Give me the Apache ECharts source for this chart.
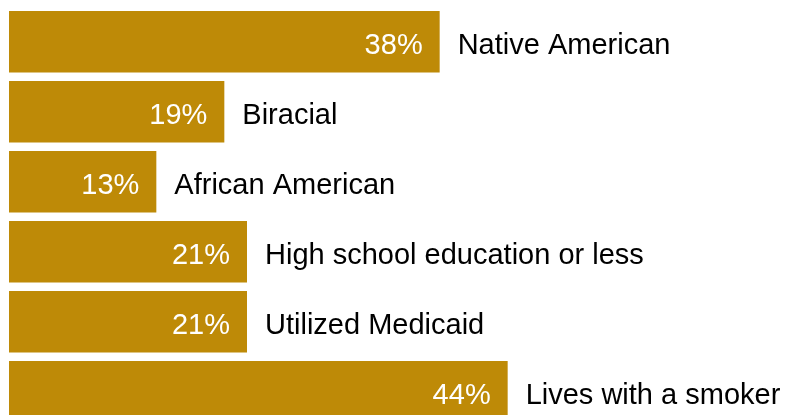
<!DOCTYPE html>
<html>
<head>
<meta charset="utf-8">
<style>
  html, body { margin: 0; padding: 0; background: #ffffff; }
  #chart { width: 786px; height: 415px; }
</style>
<script src="https://cdn.jsdelivr.net/npm/echarts@6/dist/echarts.min.js"></script>
</head>
<body>
<div id="chart"></div>
<script>
const categories = ["Native American", "Biracial", "African American", "High school education or less", "Utilized Medicaid", "Lives with a smoker"];
const values = [38, 19, 13, 21, 21, 44];

const chart = echarts.init(document.getElementById('chart'), null, { renderer: 'canvas' });
const font = '"Liberation Sans", Arial, sans-serif';
chart.setOption({
  animation: false,
  backgroundColor: '#ffffff',
  grid: { left: 9, top: 6.7, width: 680, height: 420, containLabel: false, outerBoundsMode: 'none' },
  xAxis: { type: 'value', min: 0, max: 60, show: false },
  yAxis: { type: 'category', data: categories, inverse: true, show: false },
  series: [
    {
      type: 'bar',
      data: values,
      barWidth: 61.5,
      itemStyle: { color: '#be8a07' },
      label: {
        show: true,
        position: 'insideRight',
        distance: 17,
        formatter: '{c}%',
        color: '#ffffff',
        fontFamily: font,
        fontSize: 29,
        offset: [0, 4]
      }
    },
    {
      type: 'bar',
      data: values,
      barWidth: 61.5,
      barGap: '-100%',
      itemStyle: { color: 'rgba(0,0,0,0)' },
      silent: true,
      label: {
        show: true,
        position: 'right',
        distance: 18,
        formatter: '{b}',
        color: '#000000',
        fontFamily: font,
        fontSize: 29,
        offset: [0, 4]
      }
    }
  ]
});
</script>
</body>
</html>
